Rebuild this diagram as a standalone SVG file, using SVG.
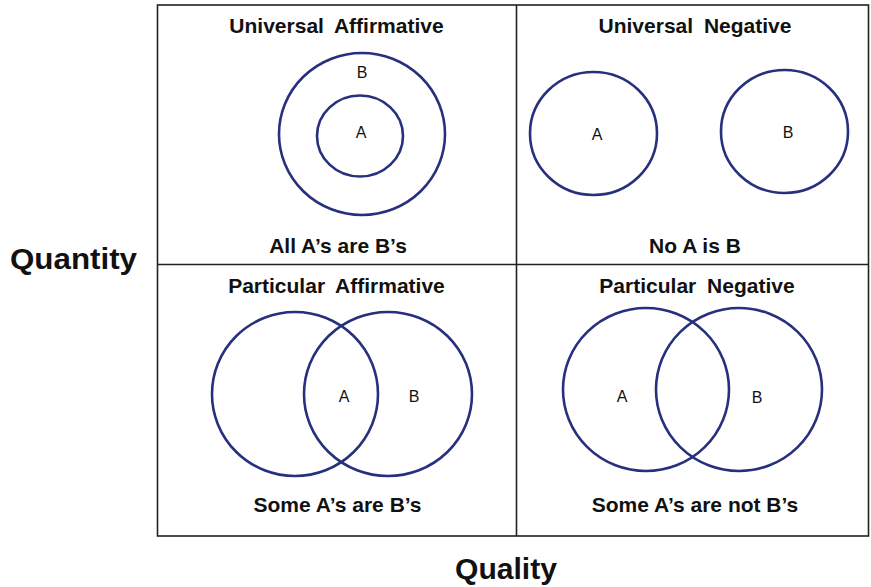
<svg xmlns="http://www.w3.org/2000/svg" width="871" height="587" viewBox="0 0 871 587">
  <style>
    .grid { fill: none; stroke: #222; stroke-width: 1.6; }
    .set { fill: none; stroke: #27307c; stroke-width: 2.6; }
    .title { font-family: "Liberation Sans", Arial, sans-serif; font-weight: bold; font-size: 21px; fill: #111; text-anchor: middle; word-spacing: 5px; }
    .caption { font-family: "Liberation Sans", Arial, sans-serif; font-weight: bold; font-size: 21px; fill: #111; text-anchor: middle; }
    .lbl { font-family: "Liberation Sans", Arial, sans-serif; font-size: 16px; fill: #111; text-anchor: middle; }
    .axis { font-family: "Liberation Sans", Arial, sans-serif; font-weight: bold; font-size: 29px; fill: #111; text-anchor: middle; }
  </style>
  <rect width="871" height="587" fill="#fff"/>

  <!-- 2x2 table frame -->
  <g id="frame">
    <rect class="grid" x="157.5" y="5" width="711" height="531"/>
    <line class="grid" x1="516.5" y1="5" x2="516.5" y2="536"/>
    <line class="grid" x1="157.5" y1="264.5" x2="868.5" y2="264.5"/>
  </g>

  <!-- axis labels -->
  <g id="axis-quantity"><text class="axis" x="73.5" y="268.5" textLength="127" lengthAdjust="spacingAndGlyphs">Quantity</text></g>
  <g id="axis-quality"><text class="axis" x="506" y="578.5" textLength="102" lengthAdjust="spacingAndGlyphs">Quality</text></g>

  <!-- A: all A's are B's -->
  <g id="universal-affirmative">
    <text class="title" x="336.5" y="32.5">Universal Affirmative</text>
    <ellipse class="set" cx="362" cy="134" rx="83" ry="81"/>
    <ellipse class="set" cx="360" cy="136" rx="43" ry="40.5"/>
    <text class="lbl" x="362" y="78">B</text>
    <text class="lbl" x="361" y="137.5">A</text>
    <text class="caption" x="338" y="253">All A’s are B’s</text>
  </g>

  <!-- E: no A is B -->
  <g id="universal-negative">
    <text class="title" x="695" y="32.5">Universal Negative</text>
    <ellipse class="set" cx="593.5" cy="133.5" rx="63.5" ry="61.5"/>
    <ellipse class="set" cx="784.5" cy="131.5" rx="63.5" ry="61.5"/>
    <text class="lbl" x="597" y="140">A</text>
    <text class="lbl" x="788" y="138">B</text>
    <text class="caption" x="695" y="253">No A is B</text>
  </g>

  <!-- I: some A's are B's -->
  <g id="particular-affirmative">
    <text class="title" x="336.5" y="293">Particular Affirmative</text>
    <ellipse class="set" cx="295" cy="394" rx="83" ry="82"/>
    <ellipse class="set" cx="388" cy="394" rx="84" ry="82"/>
    <text class="lbl" x="344" y="402">A</text>
    <text class="lbl" x="414" y="402">B</text>
    <text class="caption" x="337.5" y="511.5">Some A’s are B’s</text>
  </g>

  <!-- O: some A's are not B's -->
  <g id="particular-negative">
    <text class="title" x="697" y="293">Particular Negative</text>
    <ellipse class="set" cx="646" cy="389.5" rx="83" ry="81.5"/>
    <ellipse class="set" cx="739" cy="389.5" rx="83" ry="81.5"/>
    <text class="lbl" x="622" y="402">A</text>
    <text class="lbl" x="757" y="403">B</text>
    <text class="caption" x="695" y="511.5">Some A’s are not B’s</text>
  </g>
</svg>
